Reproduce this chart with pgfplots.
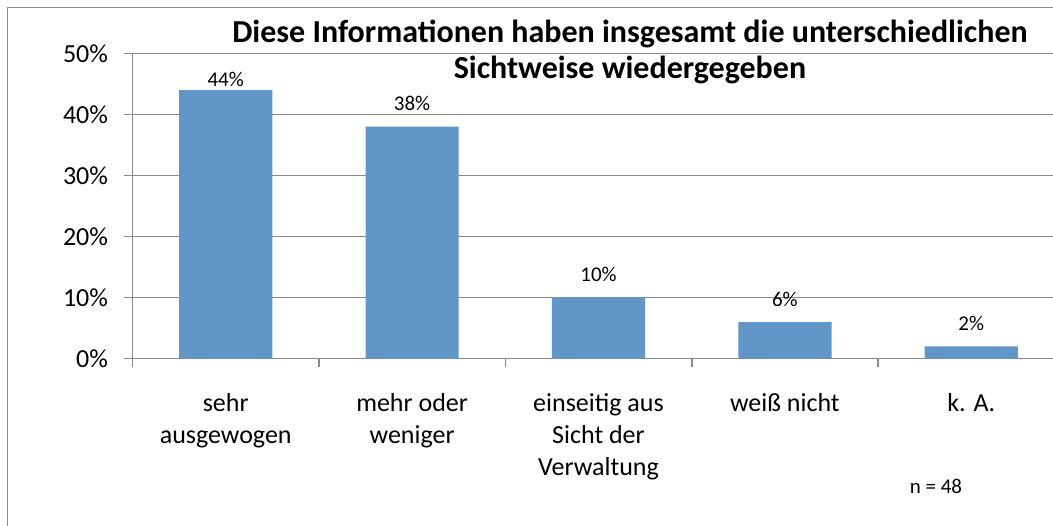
\documentclass[border=0pt]{standalone}
\usepackage{pgfplots}
\pgfplotsset{compat=1.18}
\usepackage{fontspec}
\setmainfont{Carlito}
\definecolor{barblue}{RGB}{97,150,201}
\definecolor{gridgray}{RGB}{137,137,137}
\begin{document}
\begin{tikzpicture}[x=1pt,y=1pt]
\useasboundingbox (0,0) rectangle (1053,-526);
\fill[white] (0,0) rectangle (1053,-526);
\draw[gridgray, line width=1.6pt] (7.5,-560) -- (7.5,-7.5) -- (1100,-7.5);
\begin{axis}[
  at={(132.5pt,-358.7pt)}, anchor=south west,
  scale only axis, width=932pt, height=305.2pt,
  xmin=-0.5, xmax=4.5, ymin=0, ymax=50,
  axis x line*=bottom, axis y line*=left,
  ymajorgrids, grid style={gridgray, line width=1.6pt},
  axis line style={gridgray, line width=1.6pt},
  tick style={gridgray, line width=1.6pt},
  tick align=outside, major tick length=8pt,
  /pgf/number format/assume math mode=true,
  ytick={0,10,20,30,40,50},
  yticklabels={0\%,10\%,20\%,30\%,40\%,50\%},
  yticklabel style={font=\fontsize{26}{31}\selectfont, anchor=east, xshift=-13pt},
  xtick={-0.5,0.5,1.5,2.5,3.5,4.5},
  xticklabels={sehr\\ausgewogen, mehr oder\\weniger, einseitig aus\\Sicht der\\Verwaltung, weiß nicht, k. A., {}},
  xticklabel style={font=\fontsize{26}{32}\selectfont, align=center, anchor=north, xshift=93.2pt, yshift=-23pt},
]
\addplot[ybar, bar width=93.2pt, bar shift=0pt, fill=barblue, draw=none,
  visualization depends on={rawy \as \rawy},
  nodes near coords={\pgfmathprintnumber{\pgfplotspointmeta}\%},
  every node near coord/.append style={anchor=center, text=black,
    font=\fontsize{21}{25}\selectfont, yshift={(\rawy>40)*(-12pt)+23pt}}]
  coordinates {(0,44) (1,38) (2,10) (3,6) (4,2)};
\end{axis}
\node[font=\bfseries\fontsize{32}{38}\selectfont, anchor=base] at (630,-42.5) {Diese Informationen haben insgesamt die unterschiedlichen};
\node[font=\bfseries\fontsize{32}{38}\selectfont, anchor=base] at (630,-79) {Sichtweise wiedergegeben};
\node[font=\fontsize{21}{25}\selectfont, anchor=base] at (936,-494) {n = 48};
\end{tikzpicture}
\end{document}
